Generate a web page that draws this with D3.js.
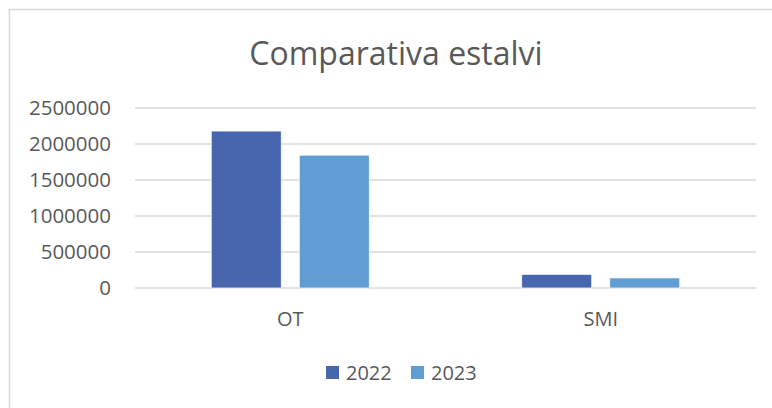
<!DOCTYPE html>
<html><head><meta charset="utf-8">
<script src="https://cdn.jsdelivr.net/npm/d3@7"></script>
<style>html,body{margin:0;padding:0;background:#fff;}svg{display:block;}</style>
</head><body>
<script>
const categories = ["OT", "SMI"];
const seriesNames = ["2022", "2023"];
const values2022 = [2180000, 190000];
const values2023 = [1845000, 140000];
const yTicks = [0, 500000, 1000000, 1500000, 2000000, 2500000];
const title = "Comparativa estalvi";
const colors = ["#4866AE", "#5F9DD3"];

const W = 772, H = 408;
const font = "'Open Sans', sans-serif";
const textColor = "#595959";
const svg = d3.select("body").append("svg").attr("width", W).attr("height", H);

// chart border
svg.append("rect").attr("x", 9.5).attr("y", 9.5).attr("width", W + 10).attr("height", H + 10)
  .attr("fill", "#fff").attr("stroke", "#d9d9d9").attr("stroke-width", 1.5);

const plot = {left: 135, right: 756, top: 108, bottom: 288};
const y = d3.scaleLinear().domain([0, 2500000]).range([plot.bottom, plot.top]);
const x0 = d3.scaleBand().domain(categories).range([plot.left, plot.right]).paddingInner(0.491).paddingOuter(0.2455);
const x1 = d3.scaleBand().domain(seriesNames).range([0, x0.bandwidth()]).paddingInner(0.2045).paddingOuter(0);

// gridlines
svg.append("g").selectAll("line").data(yTicks).join("line")
  .attr("x1", plot.left).attr("x2", plot.right)
  .attr("y1", d => y(d)).attr("y2", d => y(d))
  .attr("stroke", "#d9d9d9").attr("stroke-width", 1.5);

// y labels
svg.append("g").selectAll("text").data(yTicks).join("text")
  .attr("x", 111).attr("y", d => y(d)).attr("dy", "0.35em")
  .attr("text-anchor", "end").attr("font-family", font).attr("font-size", 20.5)
  .attr("fill", textColor).text(d => d3.format("d")(d));

// bars
const series = [values2022, values2023];
const rows = categories.map((c, i) => ({cat: c, vals: seriesNames.map((s, j) => ({s, j, v: series[j][i]}))}));
const g = svg.append("g").selectAll("g").data(rows).join("g")
  .attr("transform", d => `translate(${x0(d.cat)},0)`);
g.selectAll("rect").data(d => d.vals).join("rect")
  .attr("x", d => x1(d.s)).attr("width", x1.bandwidth())
  .attr("y", d => y(d.v)).attr("height", d => y(0) - y(d.v))
  .attr("fill", d => colors[d.j]).attr("stroke", "#fff").attr("stroke-width", 0.75);

// x labels
svg.append("g").selectAll("text").data(categories).join("text")
  .attr("x", d => x0(d) + x0.bandwidth() / 2).attr("y", 326)
  .attr("text-anchor", "middle").attr("font-family", font).attr("font-size", 20)
  .attr("fill", textColor).text(d => d);

// title
svg.append("text").attr("x", 396).attr("y", 65).attr("text-anchor", "middle")
  .attr("font-family", font).attr("font-size", 32).attr("fill", textColor).text(title);

// legend
const legX = [326, 411];
const leg = svg.append("g").selectAll("g").data(seriesNames).join("g")
  .attr("transform", (d, i) => `translate(${legX[i]},366)`);
leg.append("rect").attr("width", 13).attr("height", 13).attr("fill", (d, i) => colors[i]);
leg.append("text").attr("x", 20).attr("y", 13.5).attr("font-family", font).attr("font-size", 20)
  .attr("fill", textColor).text(d => d);
</script>
</body></html>
